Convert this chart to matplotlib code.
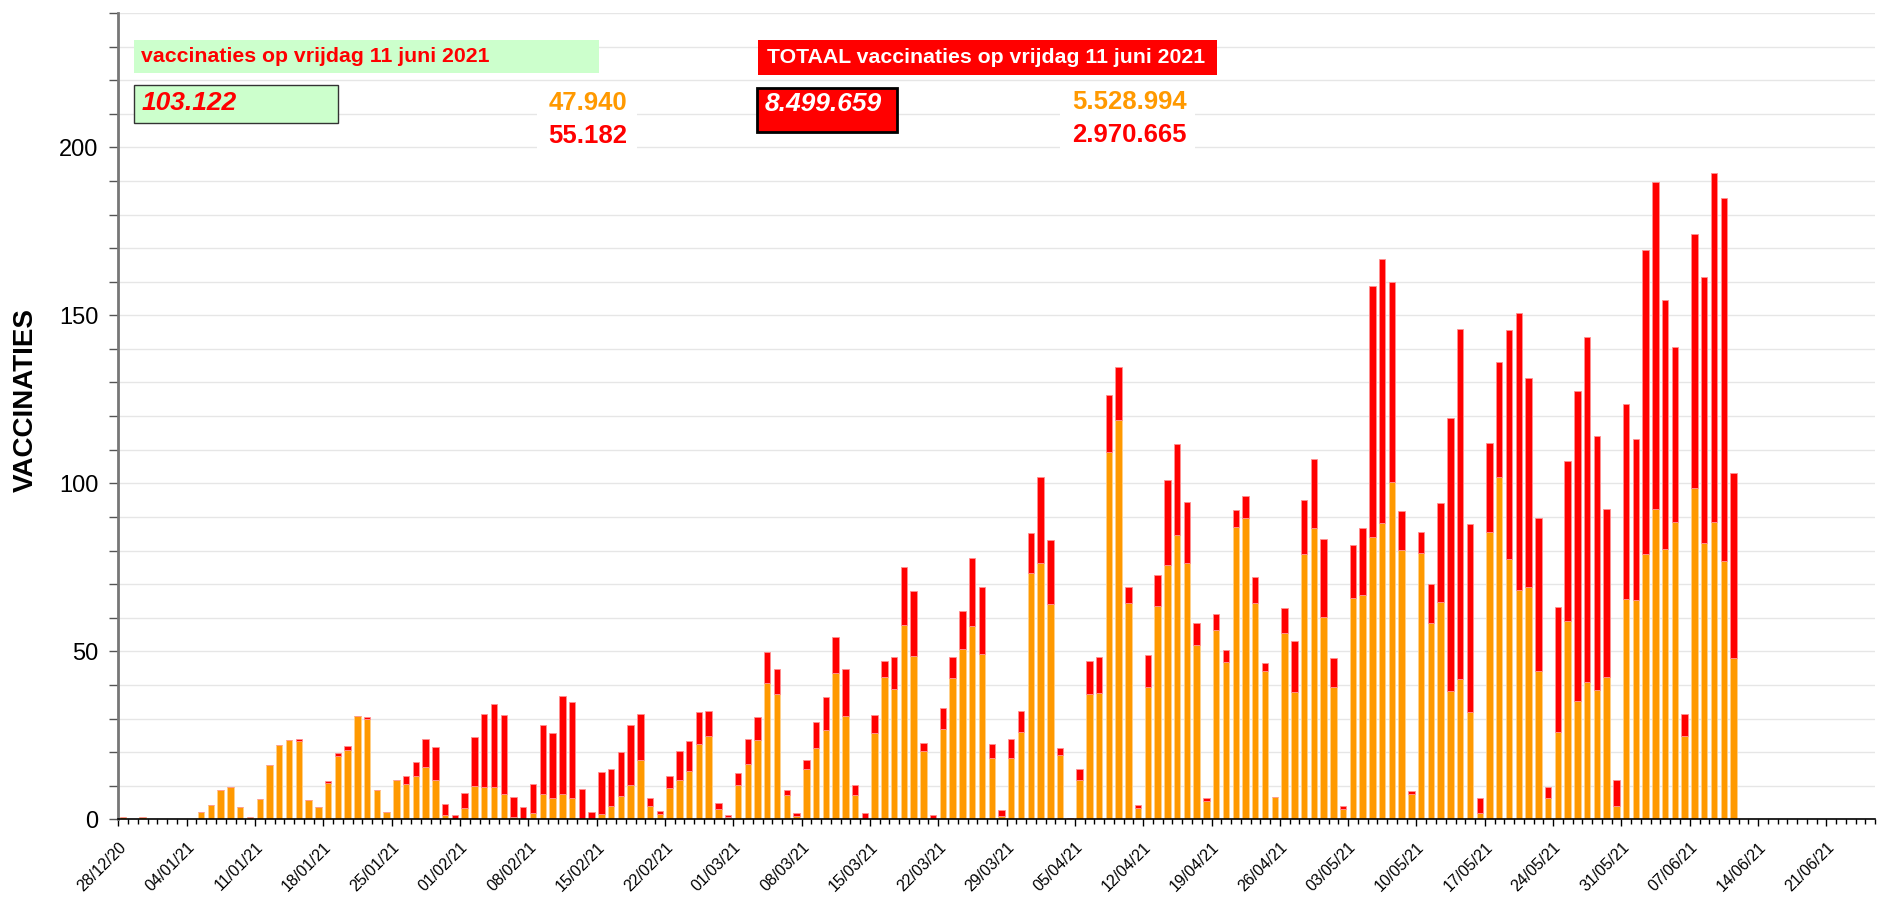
import pandas as pd
import matplotlib
matplotlib.use("Agg")
import matplotlib.pyplot as plt
import matplotlib.dates as mdates
from matplotlib.patches import Rectangle
from matplotlib.ticker import MultipleLocator
from matplotlib import font_manager

# === Data: vaccinaties per dag (x 1000), vanaf 28/12/2020 ===
start_datum = "2020-12-28"
eerste_dosis = [
    0.6, 0, 0.7, 0, 0, 0, 0, 0, 2.2, 4.3, 8.6, 9.6, 3.6, 0.7, 6.0, 16.3, 22.0, 23.6, 23.2, 5.6,
    3.6, 10.8, 18.9, 20.7, 30.8, 29.8, 8.7, 2.3, 11.6, 10.6, 12.8, 15.5, 11.7, 1.2, 0.2, 3.5, 9.8, 9.6, 9.5, 7.4,
    0.7, 0, 1.9, 7.6, 6.2, 7.4, 6.3, 0.2, 0, 1.7, 3.9, 6.8, 10.3, 17.6, 3.9, 1.5, 9.3, 11.7, 14.5, 22.4,
    24.9, 3.2, 0.6, 10.2, 16.5, 23.5, 40.5, 37.4, 7.2, 1.1, 15.0, 21.1, 26.5, 43.6, 30.6, 7.3, 0.2, 25.6, 42.3, 38.9,
    57.8, 48.6, 20.4, 0.2, 27.0, 42.0, 50.8, 57.5, 49.3, 18.1, 1.1, 18.1, 25.9, 73.3, 76.4, 64.1, 19.0, 0.2, 11.6, 37.4,
    37.7, 109.2, 118.8, 64.4, 3.5, 39.3, 63.6, 75.7, 84.5, 76.3, 52.0, 5.5, 56.3, 46.9, 87.0, 89.6, 64.4, 44.1, 6.6, 55.5,
    37.8, 78.9, 86.8, 60.2, 39.5, 3.1, 66.0, 66.9, 84.0, 88.1, 100.3, 80.2, 7.6, 79.2, 58.4, 64.8, 38.1, 41.9, 32.0, 1.9,
    85.6, 101.8, 77.5, 68.3, 69.1, 44.1, 6.3, 26.1, 59.1, 35.3, 40.9, 38.6, 42.3, 3.9, 65.6, 65.2, 78.9, 92.3, 80.5, 88.6,
    24.7, 98.7, 82.3, 88.6, 77.0, 47.94,
]
tweede_dosis = [
    0, 0, 0, 0, 0, 0, 0, 0, 0, 0, 0, 0, 0, 0, 0, 0, 0, 0, 0.7, 0,
    0, 0.6, 0.8, 1.2, 0, 0.7, 0, 0, 0, 2.4, 4.2, 8.3, 9.7, 3.5, 1.0, 4.4, 14.8, 21.6, 24.9, 23.6,
    6.0, 3.7, 8.5, 20.5, 19.6, 29.2, 28.7, 8.7, 2.1, 12.3, 11.2, 13.3, 17.9, 13.6, 2.4, 0.9, 3.6, 8.5, 8.8, 9.6,
    7.3, 1.6, 0.6, 3.6, 7.4, 6.8, 9.2, 7.3, 1.5, 0.7, 2.6, 8.0, 9.9, 10.7, 14.1, 2.8, 1.6, 5.3, 4.8, 9.3,
    17.4, 19.4, 2.2, 1.1, 6.0, 6.2, 11.1, 20.3, 19.8, 4.4, 1.6, 5.7, 6.3, 11.8, 25.4, 19.0, 2.3, 0.3, 3.3, 9.7,
    10.5, 17.0, 15.9, 4.7, 0.8, 9.7, 9.1, 25.2, 27.3, 18.0, 6.5, 0.9, 4.8, 3.5, 5.2, 6.5, 7.8, 2.4, 0, 7.5,
    15.3, 16.0, 20.3, 23.1, 8.5, 0.9, 15.7, 19.7, 74.8, 78.6, 59.6, 11.7, 0.7, 6.4, 11.7, 29.3, 81.2, 104.1, 56.0, 4.5,
    26.3, 34.2, 68.1, 82.4, 62.1, 45.5, 3.4, 37.1, 47.4, 92.1, 102.6, 75.4, 50.1, 7.9, 57.9, 48.0, 90.6, 97.3, 74.1, 52.1,
    6.6, 75.5, 79.2, 103.8, 107.8, 55.18,
]
eind_datum = "2021-06-26"

# teksten bovenaan
titel_dag = "vaccinaties op vrijdag 11 juni 2021"
titel_totaal = "TOTAAL vaccinaties op vrijdag 11 juni 2021"
dag_totaal, dag_eerste, dag_tweede = "103.122", "47.940", "55.182"
tot_totaal, tot_eerste, tot_tweede = "8.499.659", "5.528.994", "2.970.665"

ORANJE = "#FF9900"
ROOD = "#FF0000"
GROEN = "#CCFFCC"

plt.rcParams["font.family"] = ["Liberation Sans", "DejaVu Sans"]
beschikbaar = {f.name for f in font_manager.fontManager.ttflist}
smal = "Liberation Sans Narrow" if "Liberation Sans Narrow" in beschikbaar else "Liberation Sans"

# === Figure ===
W, H = 1883, 898
fig = plt.figure(figsize=(W / 100, H / 100), dpi=100)
ax = fig.add_axes([118.4 / W, 1 - 819.3 / H, 1756.8 / W, 806.4 / H])


def fx(px):
    return px / W


def fy(py):
    return 1 - py / H


# === Bars ===
dagen = pd.date_range(start_datum, periods=len(eerste_dosis), freq="D")
x = mdates.date2num(dagen) + 0.48
ax.bar(x, eerste_dosis, width=0.66, color=ORANJE, edgecolor="#FFD08A", linewidth=0.6, zorder=2)
ax.bar(x, tweede_dosis, width=0.66, bottom=eerste_dosis, color=ROOD, edgecolor="#FF9090",
       linewidth=0.6, zorder=2)

# === Axes ===
ax.set_xlim(mdates.date2num(pd.Timestamp(start_datum)), mdates.date2num(pd.Timestamp(eind_datum)))
ax.set_ylim(0, 240)
ax.xaxis.set_major_locator(mdates.WeekdayLocator(byweekday=mdates.MO))
ax.xaxis.set_minor_locator(mdates.DayLocator())
ax.xaxis.set_major_formatter(mdates.DateFormatter("%d/%m/%y"))
ax.yaxis.set_major_locator(MultipleLocator(50))
ax.yaxis.set_minor_locator(MultipleLocator(10))

ax.yaxis.grid(True, which="both", color="#e6e6e6", linewidth=1)
ax.set_axisbelow(True)

ax.tick_params(axis="y", which="both", length=6.5, width=1, color="#555555", labelsize=17, pad=8)
ax.tick_params(axis="x", which="major", length=5, width=1, labelsize=11.5, pad=9.5)
ax.tick_params(axis="x", which="minor", length=3.5, width=1)
for lbl in ax.get_xticklabels():
    lbl.set_rotation(45)
    lbl.set_ha("right")
    lbl.set_va("top")
    lbl.set_rotation_mode("anchor")

ax.spines["top"].set_visible(False)
ax.spines["right"].set_visible(False)
ax.spines["left"].set_color("#777777")
ax.spines["left"].set_linewidth(2)
ax.spines["bottom"].set_linewidth(1.2)

fig.text(fx(26), fy(400), "VACCINATIES", rotation=90, ha="center", va="center",
         fontsize=20, fontweight="bold", family=[smal, "DejaVu Sans"])

# === Tekstvakken bovenaan ===
fig.add_artist(Rectangle((fx(134), fy(73)), 465 / W, 33 / H, transform=fig.transFigure,
                         facecolor=GROEN, edgecolor="none", zorder=5))
fig.text(fx(141), fy(57), titel_dag, color=ROOD, fontsize=15.3, fontweight="bold",
         ha="left", va="center", zorder=6)

fig.add_artist(Rectangle((fx(134), fy(123)), 204 / W, 38 / H, transform=fig.transFigure,
                         facecolor=GROEN, edgecolor="#333333", linewidth=1, zorder=5))
fig.text(fx(142), fy(103), dag_totaal, color=ROOD, fontsize=19, fontweight="bold",
         style="italic", ha="left", va="center", zorder=6)

fig.add_artist(Rectangle((fx(537), fy(152)), 100 / W, 67 / H, transform=fig.transFigure,
                         facecolor="white", edgecolor="none", zorder=5))
fig.text(fx(627), fy(103), dag_eerste, color=ORANJE, fontsize=18.5, fontweight="bold",
         ha="right", va="center", zorder=6)
fig.text(fx(627), fy(136), dag_tweede, color=ROOD, fontsize=18.5, fontweight="bold",
         ha="right", va="center", zorder=6)

fig.add_artist(Rectangle((fx(758), fy(75)), 459 / W, 35 / H, transform=fig.transFigure,
                         facecolor=ROOD, edgecolor="none", zorder=5))
fig.text(fx(767), fy(57.5), titel_totaal, color="white", fontsize=15.3, fontweight="bold",
         ha="left", va="center", zorder=6)

fig.add_artist(Rectangle((fx(757), fy(132)), 140 / W, 44 / H, transform=fig.transFigure,
                         facecolor=ROOD, edgecolor="black", linewidth=2, zorder=5))
fig.text(fx(765), fy(104), tot_totaal, color="white", fontsize=19, fontweight="bold",
         style="italic", ha="left", va="center", zorder=6)

fig.add_artist(Rectangle((fx(1060), fy(152)), 135 / W, 67 / H, transform=fig.transFigure,
                         facecolor="white", edgecolor="none", zorder=5))
fig.text(fx(1187), fy(102), tot_eerste, color=ORANJE, fontsize=18.5, fontweight="bold",
         ha="right", va="center", zorder=6)
fig.text(fx(1187), fy(135), tot_tweede, color=ROOD, fontsize=18.5, fontweight="bold",
         ha="right", va="center", zorder=6)

fig.savefig("out.png", dpi=100)
